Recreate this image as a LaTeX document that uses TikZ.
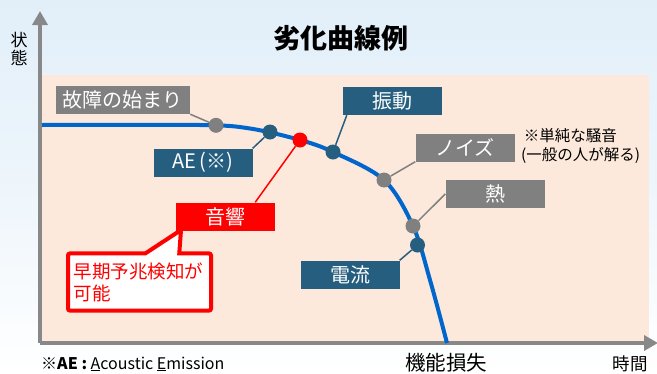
\documentclass[tikz,border=0pt]{standalone}
\usepackage{fontspec}
\setmainfont{Noto Sans CJK JP}
\usetikzlibrary{arrows.meta,shapes.callouts}

\definecolor{bgblue}{HTML}{E2EFF9}
\definecolor{peach}{HTML}{FCE9DB}
\definecolor{axisgray}{HTML}{888888}
\definecolor{tagblue}{HTML}{255E7F}
\definecolor{taggray}{HTML}{808080}
\definecolor{curveblue}{HTML}{0066CC}
\definecolor{alertred}{HTML}{FF0000}

\tikzset{
	tag/.style={fill=#1, text=white, minimum width=99pt, minimum height=28pt, inner sep=0pt, font=\fontsize{20}{24}\selectfont},
	tagline/.style={draw=#1, line width=1.5pt},
	dot/.style={circle, fill=#1, minimum size=15pt, inner sep=0pt},
	axis/.style={draw=axisgray, line width=4pt, -{Triangle[width=15pt,length=14pt]}},
	caption/.style={inner sep=0pt, font=\fontsize{#1}{#1}\selectfont}
}

\begin{document}
\begin{tikzpicture}[x=1pt, y=-1pt]
	\shade[top color=bgblue, bottom color=white, middle color=bgblue!60] (0,0) rectangle (657,373);
	\useasboundingbox (0,0) rectangle (657,373);
	\fill[peach] (40,75) rectangle (649,343);
	
	% axes
	\coordinate (O) at (40,343);
	\coordinate (ytop) at (40,11);
	\coordinate (xend) at (658,343);
	\draw[axis] (O) -- (ytop);
	\draw[axis] (O) -- (xend);
	
	\node[caption=27, font=\fontsize{27}{27}\selectfont\bfseries] (title) at (341,38) {劣化曲線例};
	\node[caption=17, align=center] (ylab) at (19,49) {状\\[1pt]態};
	\node[caption=20.5] (loss) at (446,363) {機能損失};
	\node[caption=17.5] (time) at (630,364) {時間};
	\node[caption=16, anchor=base west] (note) at (41,369) {\textbf{※AE :} \underline{A}coustic \underline{E}mission};
	
	% curve
	\draw[curveblue, line width=4pt] plot[smooth, tension=0.55] coordinates {(42,125) (200,125) (250,128.5) (300,140) (333,152) (384,180) (413,226) (430,280) (447,343)};
	
	% points on the curve
	\node[dot=taggray] (dfail) at (216,125.3) {};
	\node[dot=tagblue] (dae) at (270,132) {};
	\node[dot=alertred] (dsound) at (300,140) {};
	\node[dot=tagblue] (dvib) at (333,152) {};
	\node[dot=taggray] (dnoise) at (384,180) {};
	\node[dot=taggray] (dheat) at (413,226) {};
	\node[dot=tagblue] (dcur) at (417.5,245) {};
	
	% labels
	\node[tag=taggray, minimum width=134pt] (fail) at (123,100) {故障の始まり};
	\node[tag=tagblue] (ae) at (203,162.5) {AE\,(※)};
	\node[tag=alertred] (sound) at (225.5,216.5) {音響};
	\node[tag=tagblue] (vib) at (392.5,101) {振動};
	\node[tag=taggray] (noise) at (465,147.5) {ノイズ};
	\node[tag=taggray] (heat) at (495,194) {熱};
	\node[tag=tagblue] (cur) at (350,274.5) {電流};
	\node[caption=15.5, align=left, anchor=north west, font=\fontsize{15.5}{19}\selectfont] (noisenote) at (521,128) {\,※単純な騒音\\(一般の人が解る)};
	
	\draw[tagline=taggray] (fail.south east) -- (dfail);
	\draw[tagline=tagblue] (ae.north east) -- (dae);
	\draw[tagline=alertred] ([xshift=-20pt]sound.north east) -- (dsound);
	\draw[tagline=tagblue] ([xshift=4pt]vib.south west) -- (dvib);
	\draw[tagline=taggray] (noise.south west) -- (dnoise);
	\draw[tagline=taggray] (heat.west) -- (dheat);
	\draw[tagline=tagblue] (cur.north east) -- (dcur);
	
	\node[rectangle callout, draw=alertred, fill=white, line width=4pt, rounded corners=2pt,
		callout absolute pointer={(181,230)}, callout pointer width=34pt,
		text width=131pt, inner xsep=6pt, inner ysep=9pt, align=left, text=alertred,
		font=\fontsize{18.5}{22}\selectfont] (early) at (139.5,282) {早期予兆検知が\\可能};
\end{tikzpicture}
\end{document}
